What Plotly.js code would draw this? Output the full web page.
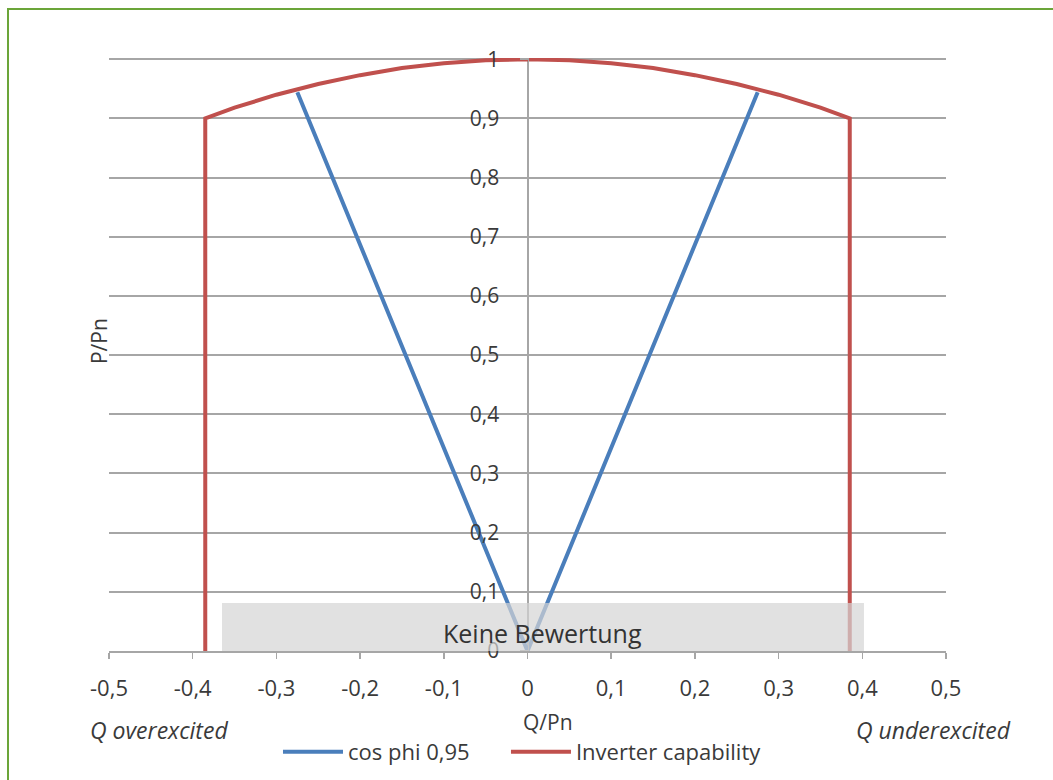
<!DOCTYPE html>
<html>
<head>
<meta charset="utf-8">
<script src="https://cdn.plot.ly/plotly-3.0.1.min.js"></script>
<style>
  html, body { margin: 0; padding: 0; background: #ffffff; }
  #chart { position: absolute; left: 0; top: 0; width: 1053px; height: 780px; }
  #frame { position: absolute; left: 7px; top: 8px; width: 1060px; height: 790px;
           border-left: 2px solid #6ba539; border-top: 2px solid #6ba539; pointer-events: none; }
</style>
</head>
<body>
<div id="chart"></div>
<div id="frame"></div>
<script>
// ---- data ----
const capabilityQ = [-0.385, -0.385, -0.35, -0.3, -0.25, -0.2, -0.15, -0.1, -0.05, 0, 0.05, 0.1, 0.15, 0.2, 0.25, 0.3, 0.35, 0.385, 0.385];
const capabilityP = [0, 0.9, 0.918, 0.94, 0.958, 0.973, 0.985, 0.993, 0.998, 1.0, 0.998, 0.993, 0.985, 0.973, 0.958, 0.94, 0.918, 0.9, 0];
const cosPhiQ = [-0.275, 0, 0.275];
const cosPhiP = [0.944, 0, 0.944];

const xTickVals = [-0.5, -0.4, -0.3, -0.2, -0.1, 0, 0.1, 0.2, 0.3, 0.4, 0.5];
const xTickText = ['-0,5', '-0,4', '-0,3', '-0,2', '-0,1', '0', '0,1', '0,2', '0,3', '0,4', '0,5'];
const yTickVals = [0, 0.1, 0.2, 0.3, 0.4, 0.5, 0.6, 0.7, 0.8, 0.9, 1];
const yTickText = ['0', '0,1', '0,2', '0,3', '0,4', '0,5', '0,6', '0,7', '0,8', '0,9', '1'];

const noRatingQ = [-0.365, 0.402];
const noRatingP = [0, 0.081];

const seriesNames = ['cos phi 0,95', 'Inverter capability'];
// --------------------------------------

const FONT = '"Open Sans", Lato, sans-serif';
const TXT = '#3a3a3a';
const GRID = '#a6a6a6';

const traces = [
  { x: cosPhiQ, y: cosPhiP, name: seriesNames[0], mode: 'lines', type: 'scatter',
    line: { color: '#4a7ebb', width: 4 }, legend: 'legend' },
  { x: capabilityQ, y: capabilityP, name: seriesNames[1], mode: 'lines', type: 'scatter',
    line: { color: '#c0504d', width: 4 }, legend: 'legend2' }
];

const legendCommon = {
  orientation: 'h', xref: 'container', yref: 'container', xanchor: 'left', yanchor: 'top',
  font: { family: FONT, size: 22, color: TXT }, itemwidth: 60, bgcolor: 'rgba(0,0,0,0)'
};

const layout = {
  width: 1053, height: 780,
  margin: { l: 109, r: 107, t: 58, b: 129, autoexpand: false },
  paper_bgcolor: 'rgba(0,0,0,0)', plot_bgcolor: '#ffffff',
  font: { family: FONT, size: 20, color: TXT },
  showlegend: true,
  legend: Object.assign({}, legendCommon, { x: 0.264, y: 0.063 }),
  legend2: Object.assign({}, legendCommon, { x: 0.4805, y: 0.063 }),
  xaxis: {
    range: [-0.5, 0.5], tickvals: xTickVals, ticktext: xTickText,
    showgrid: false, zeroline: true, zerolinecolor: GRID, zerolinewidth: 1.5,
    showline: true, linecolor: GRID, linewidth: 2,
    ticks: 'outside', ticklen: 6, tickcolor: GRID, tickwidth: 1.5,
    ticklabelstandoff: 11,
    tickfont: { family: FONT, size: 22, color: TXT }, fixedrange: true
  },
  yaxis: {
    range: [0, 1.002], tickvals: yTickVals, ticktext: yTickText,
    anchor: 'free', position: 0.5,
    showgrid: true, gridcolor: GRID, gridwidth: 2, zeroline: false,
    showline: true, linecolor: GRID, linewidth: 1.5,
    ticks: 'outside', ticklen: 8, tickcolor: GRID, tickwidth: 1.5,
    ticklabelstandoff: 16,
    tickfont: { family: FONT, size: 21, color: TXT }, fixedrange: true
  },
  shapes: [
    { type: 'rect', xref: 'x', yref: 'y', x0: noRatingQ[0], x1: noRatingQ[1], y0: noRatingP[0], y1: noRatingP[1],
      fillcolor: '#d4d4d4', opacity: 0.7, line: { width: 0 }, layer: 'above' }
  ],
  annotations: [
    { text: 'Keine Bewertung', xref: 'x', yref: 'y', x: 0.0185, y: 0.030, xanchor: 'center', yanchor: 'middle',
      showarrow: false, font: { family: FONT, size: 25, color: '#333333' } },
    { text: 'P/Pn', xref: 'paper', yref: 'paper', x: -0.0119, y: 0.5228, xanchor: 'center', yanchor: 'middle',
      showarrow: false, textangle: -90, font: { family: FONT, size: 21, color: TXT } },
    { text: '<i>Q overexcited</i>', xref: 'paper', yref: 'paper', x: -0.0251, y: -0.1332, xanchor: 'left', yanchor: 'middle',
      showarrow: false, font: { family: FONT, size: 23, color: TXT } },
    { text: 'Q/Pn', xref: 'paper', yref: 'paper', x: 0.5245, y: -0.1197, xanchor: 'center', yanchor: 'middle',
      showarrow: false, font: { family: FONT, size: 21, color: TXT } },
    { text: '<i>Q underexcited</i>', xref: 'paper', yref: 'paper', x: 1.080, y: -0.1332, xanchor: 'right', yanchor: 'middle',
      showarrow: false, font: { family: FONT, size: 23, color: TXT } }
  ]
};

Plotly.newPlot('chart', traces, layout, { displayModeBar: false, staticPlot: true });
</script>
</body>
</html>
